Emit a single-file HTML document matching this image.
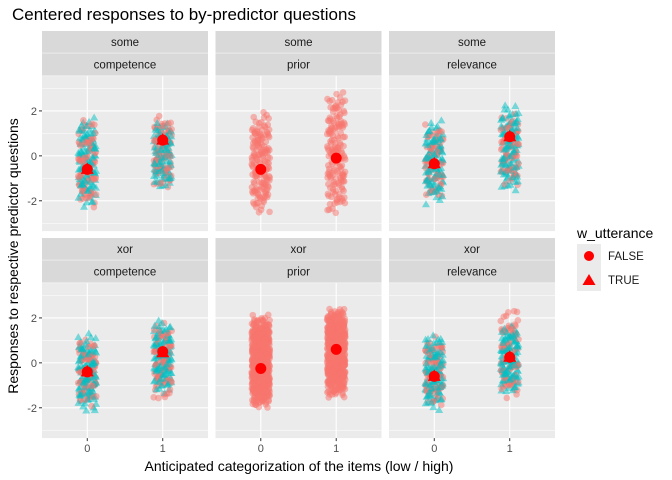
<!DOCTYPE html>
<html><head><meta charset="utf-8"><style>
html,body{margin:0;padding:0;background:#fff;}
svg{display:block;font-family:"Liberation Sans",sans-serif;}
</style></head><body>
<svg id="chart" width="672" height="480" viewBox="0 0 672 480">
<text x="12" y="20" font-size="17" fill="#000">Centered responses to by-predictor questions</text>
<g id="panels"></g>
<text x="299" y="471" font-size="14" text-anchor="middle" fill="#000">Anticipated categorization of the items (low / high)</text>
<text transform="translate(18,256) rotate(-90)" font-size="14" text-anchor="middle" fill="#000">Responses to respective predictor questions</text>
<g>
<text x="577" y="238" font-size="14" fill="#000">w_utterance</text>
<rect x="577" y="244" width="24" height="47" fill="#ebebeb"/>
<circle cx="589" cy="256" r="5" fill="#ff0000"/>
<text x="608" y="260" font-size="11.5" fill="#1a1a1a">FALSE</text>
<polygon points="589,274 595.5,285 582.5,285" fill="#ff0000"/>
<text x="608" y="284" font-size="11.5" fill="#1a1a1a">TRUE</text>
</g>
</svg>
<script>
// panel facets
const rowLabels = ["some","some","some","xor","xor","xor"];
const colLabels = ["competence","prior","relevance","competence","prior","relevance"];
const xCategories = [0, 1];
const yTicks = [-2, 0, 2];
// mean responses per panel: [x=0, x=1]
const meanFalse = [[-0.6,0.7],[-0.6,-0.1],[-0.35,0.85],[-0.4,0.5],[-0.25,0.6],[-0.6,0.25]];
const meanTrue  = [[-0.6,0.7],[null,null],[-0.35,0.85],[-0.4,0.45],[null,null],[-0.6,0.25]];
// response spread per panel [x=0 lo, x=0 hi, x=1 lo, x=1 hi]
const spreadFalse = [[-2.5,1.9,-1.6,2.0],[-2.7,2.1,-2.9,3.2],[-2.0,1.6,-1.4,2.0],[-2.0,1.2,-1.8,2.0],[-2.1,2.2,-1.6,2.5],[-2.0,1.3,-1.8,2.6]];
const spreadTrue  = [[-2.4,1.9,-1.6,1.7],[0,0,0,0],[-2.2,1.7,-1.8,2.5],[-2.3,1.4,-1.5,2.0],[0,0,0,0],[-2.2,1.4,-1.5,1.8]];
const countFalse = [[90,90],[160,160],[80,80],[90,90],[600,600],[90,90]];
const countTrue  = [[110,110],[0,0],[110,110],[120,120],[0,0],[120,120]];

const NS="http://www.w3.org/2000/svg";
const g=document.getElementById("panels");
const colX=[42,215.5,389], W=166;
const rowY=[31,238], SH=22.3, PH=155;
function mk(t,a){const e=document.createElementNS(NS,t);for(const k in a)e.setAttribute(k,a[k]);return e;}
function halton(i,b){let f=1,r=0;while(i>0){f/=b;r+=f*(i%b);i=Math.floor(i/b);}return r;}
const yMin=-3.35,yMax=3.55,xMin=-0.6,xMax=1.6;

for(let p=0;p<6;p++){
  const r=Math.floor(p/3),c=p%3;
  const x0=colX[c], sy=rowY[r], py=sy+2*SH+0.5;
  const xs=v=>x0+(v-xMin)/(xMax-xMin)*W;
  const ys=v=>py+(yMax-v)/(yMax-yMin)*PH;
  const s1=mk("rect",{x:x0,y:sy,width:W,height:SH-0.5,fill:"#d9d9d9"});
  g.appendChild(s1);
  const t1=mk("text",{x:x0+W/2,y:sy+15,"font-size":"11.5","text-anchor":"middle",fill:"#1a1a1a"});t1.textContent=rowLabels[p];
  g.appendChild(t1);
  const s2=mk("rect",{x:x0,y:sy+SH,width:W,height:SH,fill:"#d9d9d9"});
  g.appendChild(s2);
  const t2=mk("text",{x:x0+W/2,y:sy+SH+15,"font-size":"11.5","text-anchor":"middle",fill:"#1a1a1a"});t2.textContent=colLabels[p];
  g.appendChild(t2);
  const bg=mk("rect",{x:x0,y:py,width:W,height:PH,fill:"#ebebeb"});
  g.appendChild(bg);
  for(const v of [-3,-1,1,3]){const l=mk("line",{x1:x0,x2:x0+W,y1:ys(v),y2:ys(v),stroke:"#fff","stroke-width":0.5});g.appendChild(l);}
  for(const v of yTicks){const l=mk("line",{x1:x0,x2:x0+W,y1:ys(v),y2:ys(v),stroke:"#fff","stroke-width":1.1});g.appendChild(l);}
  for(const v of xCategories){const l=mk("line",{x1:xs(v),x2:xs(v),y1:py,y2:py+PH,stroke:"#fff","stroke-width":1.1});g.appendChild(l);}
  if(c===0){for(const v of yTicks){
    const tk=mk("line",{x1:x0-3,x2:x0,y1:ys(v),y2:ys(v),stroke:"#333"});g.appendChild(tk);
    const tl=mk("text",{x:x0-5,y:ys(v)+4,"font-size":"11","text-anchor":"end",fill:"#4d4d4d"});tl.textContent=v;g.appendChild(tl);}}
  if(r===1){for(const v of xCategories){
    const tk=mk("line",{x1:xs(v),x2:xs(v),y1:py+PH,y2:py+PH+3,stroke:"#333"});g.appendChild(tk);
    const tl=mk("text",{x:xs(v),y:py+PH+14,"font-size":"11","text-anchor":"middle",fill:"#4d4d4d"});tl.textContent=v;g.appendChild(tl);}}
  const pts=mk("g",{});g.appendChild(pts);
  xCategories.forEach((xv,xi)=>{
    const series=[[countFalse,spreadFalse,"#F8766D",0],[countTrue,spreadTrue,"#00BFC4",1]];
    const n=Math.max(countFalse[p][xi],countTrue[p][xi]);
    for(let i=0;i<n;i++){
      for(const [cnt,sp,col,tri] of series){
        if(i>=cnt[p][xi])continue;
        const k=p*5000+xi*2000+tri*1000+i+1;
        const lo=sp[p][xi*2],hi=sp[p][xi*2+1];
        const t=0.75*halton(k,5)+0.25*halton(k,7);
        const v=lo+(hi-lo)*t;
        const jx=xs(xv+(halton(k,3)-0.5)*0.24), jy=ys(v);
        let e;
        if(tri){e=mk("polygon",{points:`${jx},${jy-4} ${jx+4},${jy+3} ${jx-4},${jy+3}`,fill:col,"fill-opacity":0.5});}
        else{e=mk("circle",{cx:jx,cy:jy,r:3.3,fill:col,"fill-opacity":0.5});}
        
        
        pts.appendChild(e);
      }
    }
    const mf=meanFalse[p][xi];
    if(mf!==null){const e=mk("circle",{cx:xs(xv),cy:ys(mf),r:5.5,fill:"#ff0000"});g.appendChild(e);}
    const mt=meanTrue[p][xi];
    if(mt!==null){const X=xs(xv),Y=ys(mt);const e=mk("polygon",{points:`${X},${Y-7} ${X+6.5},${Y+4.5} ${X-6.5},${Y+4.5}`,fill:"#ff0000"});g.appendChild(e);}
  });
}
</script>
</body></html>
